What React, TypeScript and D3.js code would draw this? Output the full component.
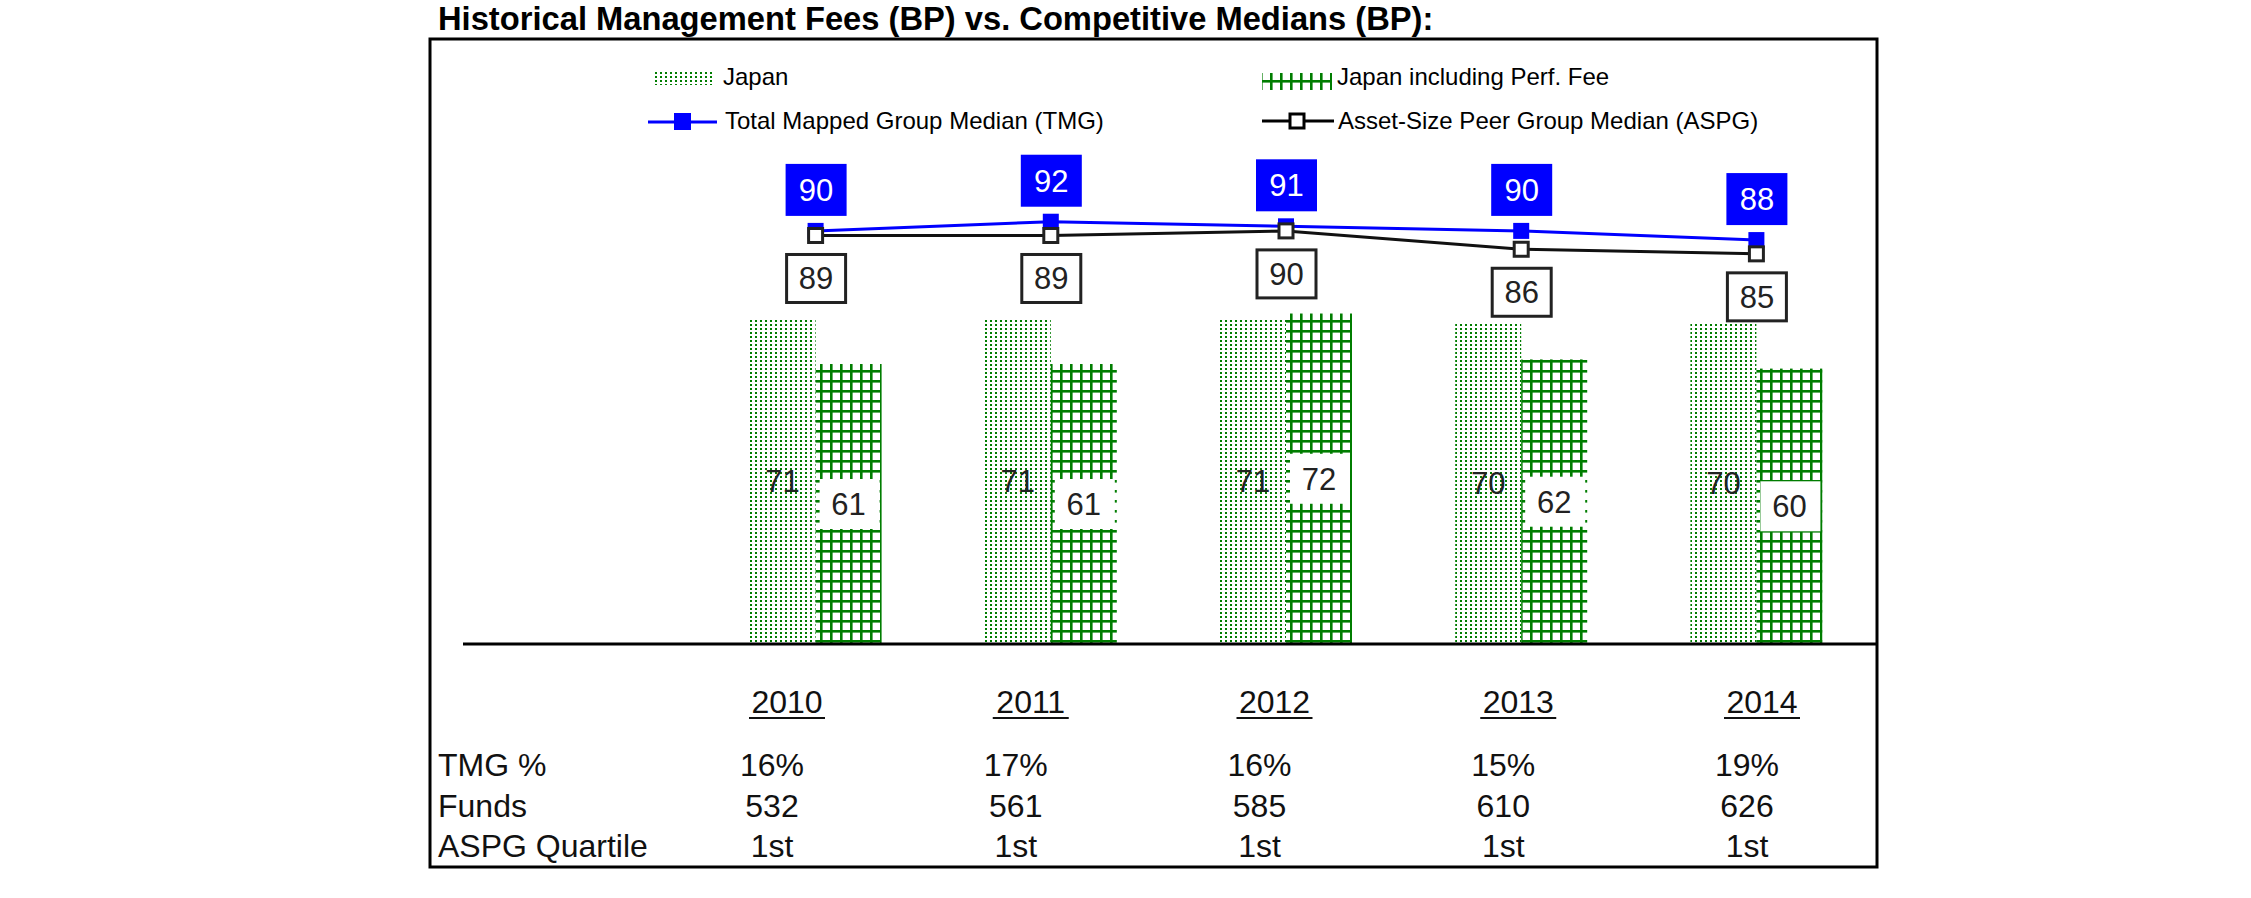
import { line, scaleBand, scaleLinear, scalePoint } from "d3";

const years = ["2010", "2011", "2012", "2013", "2014"];
const japan = [71, 71, 71, 70, 70];
const japanPerf = [61, 61, 72, 62, 60];
const tmg = [90, 92, 91, 90, 88];
const aspg = [89, 89, 90, 86, 85];
const tmgPct = ["16%", "17%", "16%", "15%", "19%"];
const funds = ["532", "561", "585", "610", "626"];
const quartile = ["1st", "1st", "1st", "1st", "1st"];
const rowLabels = ["TMG %", "Funds", "ASPG Quartile"];

const width = 2251;
const height = 898;
const green = "#007d00";
const blue = "#0000ff";
const font = "'Liberation Sans', Arial, sans-serif";

const baseY = 644;
const barW = 66;

function App() {
  const x = scaleBand().domain(years).range([698, 1874]);
  const y = scaleLinear().domain([0, 100]).range([baseY, 185]);
  const col = scalePoint().domain(years).range([787, 1762]);

  const cx = (i: number) => (x(years[i]) as number) + x.bandwidth() / 2;

  const lineGen = line<number>()
    .x((_, i) => cx(i))
    .y((d) => y(d));

  const rows = [tmgPct, funds, quartile];
  const rowY = [776, 817, 857];

  return (
    <svg
      width={width}
      height={height}
      style={{ position: "absolute", left: 0, top: 0, background: "#fff" }}
      fontFamily={font}
    >
      <defs>
        <pattern id="dots" width={5} height={4} patternUnits="userSpaceOnUse">
          <rect x={0} y={0} width={2} height={2} fill={green} />
        </pattern>
        <pattern id="grid" width={10} height={10} patternUnits="userSpaceOnUse">
          <rect x={0} y={0} width={2.6} height={10} fill={green} />
          <rect x={0} y={0} width={10} height={2.6} fill={green} />
        </pattern>
      </defs>

      <text x={438} y={30} fontSize={32.7} fontWeight="bold" fill="#000">
        Historical Management Fees (BP) vs. Competitive Medians (BP):
      </text>

      <rect x={430} y={39} width={1447} height={828} fill="none" stroke="#000" strokeWidth={3} />

      {/* legend */}
      <rect x={652} y={70} width={61} height={15} fill="url(#dots)" />
      <text x={723} y={85} fontSize={24}>Japan</text>
      <rect x={1262} y={73} width={70} height={17} fill="url(#grid)" />
      <text x={1337} y={85} fontSize={24}>Japan including Perf. Fee</text>
      <line x1={648} x2={717} y1={122} y2={122} stroke={blue} strokeWidth={3} />
      <rect x={674} y={113} width={17} height={17} fill={blue} />
      <text x={725} y={129} fontSize={24}>Total Mapped Group Median (TMG)</text>
      <line x1={1262} x2={1334} y1={121} y2={121} stroke="#000" strokeWidth={3} />
      <rect x={1290} y={114} width={14} height={14} fill="#fff" stroke="#000" strokeWidth={3} />
      <text x={1338} y={129} fontSize={24}>Asset-Size Peer Group Median (ASPG)</text>

      {/* bars */}
      {years.map((yr, i) => (
        <g key={yr}>
          <rect
            x={cx(i) - barW}
            y={y(japan[i])}
            width={barW}
            height={baseY - y(japan[i])}
            fill="url(#dots)"
          />
          <rect
            x={cx(i)}
            y={y(japanPerf[i])}
            width={barW}
            height={baseY - y(japanPerf[i])}
            fill="url(#grid)"
          />
          <text
            x={cx(i) - barW / 2}
            y={(y(japan[i]) + baseY) / 2}
            dy="0.35em"
            textAnchor="middle"
            fontSize={31}
            fill="#222"
          >
            {japan[i]}
          </text>
          <rect
            x={cx(i) + 4}
            y={(y(japanPerf[i]) + baseY) / 2 - 25}
            width={barW - 6}
            height={50}
            fill="#fff"
          />
          <text
            x={cx(i) + barW / 2}
            y={(y(japanPerf[i]) + baseY) / 2}
            dy="0.35em"
            textAnchor="middle"
            fontSize={31}
            fill="#222"
          >
            {japanPerf[i]}
          </text>
        </g>
      ))}

      <line x1={463} x2={1877} y1={baseY} y2={baseY} stroke="#000" strokeWidth={3} />

      {/* lines */}
      <path d={lineGen(tmg) || ""} fill="none" stroke={blue} strokeWidth={3} />
      {tmg.map((v, i) => (
        <rect key={"tm" + i} x={cx(i) - 8} y={y(v) - 8} width={16} height={16} fill={blue} />
      ))}
      <path d={lineGen(aspg) || ""} fill="none" stroke="#111" strokeWidth={3} />
      {aspg.map((v, i) => (
        <rect
          key={"am" + i}
          x={cx(i) - 7}
          y={y(v) - 7}
          width={14}
          height={14}
          fill="#fff"
          stroke="#222"
          strokeWidth={3}
        />
      ))}

      {/* data labels */}
      {tmg.map((v, i) => (
        <g key={"tl" + i}>
          <rect x={cx(i) - 30} y={y(v) - 67} width={61} height={52} fill={blue} />
          <text
            x={cx(i) + 0.5}
            y={y(v) - 41}
            dy="0.35em"
            textAnchor="middle"
            fontSize={31}
            fill="#fff"
          >
            {v}
          </text>
        </g>
      ))}
      {aspg.map((v, i) => (
        <g key={"al" + i}>
          <rect
            x={cx(i) - 29}
            y={y(v) + 19}
            width={59}
            height={48}
            fill="#fff"
            stroke="#222"
            strokeWidth={3}
          />
          <text
            x={cx(i) + 0.5}
            y={y(v) + 43}
            dy="0.35em"
            textAnchor="middle"
            fontSize={31}
            fill="#222"
          >
            {v}
          </text>
        </g>
      ))}

      {/* table */}
      {years.map((yr) => (
        <g key={"yr" + yr}>
          <text x={col(yr)} y={713} textAnchor="middle" fontSize={32} fill="#111">
            {yr}
          </text>
          <line
            x1={(col(yr) as number) - 38}
            x2={(col(yr) as number) + 38}
            y1={718}
            y2={718}
            stroke="#111"
            strokeWidth={2}
          />
        </g>
      ))}
      {rowLabels.map((lab, r) => (
        <text key={lab} x={438} y={rowY[r]} fontSize={32} fill="#111">
          {lab}
        </text>
      ))}
      {rows.map((vals, r) =>
        vals.map((v, i) => (
          <text
            key={r + "-" + i}
            x={(col(years[i]) as number) - 15}
            y={rowY[r]}
            textAnchor="middle"
            fontSize={32}
            fill="#111"
          >
            {v}
          </text>
        ))
      )}
    </svg>
  );
}

export default App;
